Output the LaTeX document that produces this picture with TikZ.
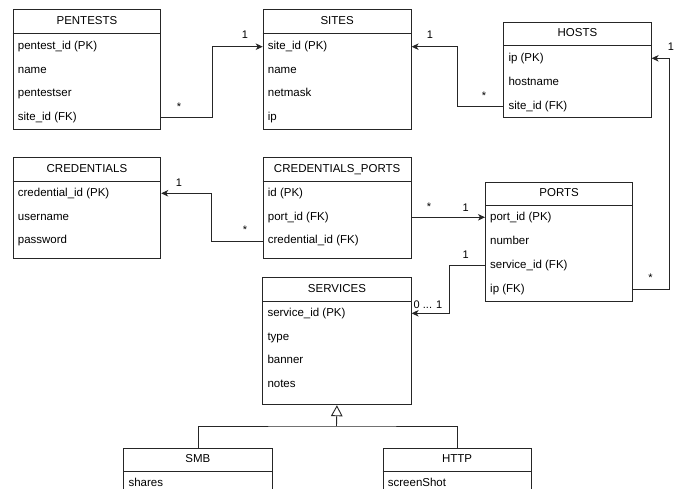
\documentclass[tikz,border=0pt]{standalone}
\usepackage{fontspec}
\setmainfont{Liberation Sans}
\usetikzlibrary{arrows.meta,calc}
\tikzset{
  line/.style={draw=black!85, line width=0.9pt},
  tbl/.style={line, rectangle, inner sep=0pt, fill=white},
  hdr/.style={inner sep=0pt, text height=8.3pt, text depth=2.4pt, font=\fontsize{11.5}{13}\selectfont},
  row/.style={anchor=west, inner sep=0pt, text height=8.3pt, text depth=2.4pt, font=\fontsize{11.5}{13}\selectfont},
  lbl/.style={inner sep=0pt, font=\fontsize{11}{13}\selectfont},
  fk/.style={line, -{Stealth[length=7pt,width=6.5pt,inset=2pt]}},
  inh/.style={line, -{Triangle[open,length=11pt,width=11.5pt]}}
}
\newcommand\erbox[7]{%
  \node[tbl, minimum width=#4pt, minimum height=#5pt, anchor=north west] (#1) at (#2,#3) {};
  \draw[line] ([yshift=-#6pt]#1.north west) -- ([yshift=-#6pt]#1.north east);
  \node[hdr] (#1-t) at ($(#1.north)+(0,#6/2)$) {#7};
}
\begin{document}
\begin{tikzpicture}[x=1pt,y=-1pt]
\useasboundingbox (0,0) rectangle (678,489);
\clip (0,0) rectangle (678,489);
\fill[white] (0,0) rectangle (678,489);

% PENTESTS
\erbox{pent}{12.7}{9.3}{147.6}{120}{24}{PENTESTS}
\node[row] (pent1) at (17.7,46.7) {pentest\_id (PK)};
\node[row] (pent2) at (17.7,70.7) {name};
\node[row] (pent3) at (17.7,94) {pentestser};
\node[row] (pent4) at (17.7,117.7) {site\_id (FK)};

% SITES
\erbox{sites}{262.7}{9.3}{148}{120}{24}{SITES}
\node[row] (site1) at (267.7,46.7) {site\_id (PK)};
\node[row] (site2) at (267.7,70.7) {name};
\node[row] (site3) at (267.7,94) {netmask};
\node[row] (site4) at (267.7,117.7) {ip};

% HOSTS
\erbox{hosts}{503.3}{21.7}{147.4}{95.6}{24}{HOSTS}
\node[row] (host1) at (508.3,58.3) {ip (PK)};
\node[row] (host2) at (508.3,82.3) {hostname};
\node[row] (host3) at (508.3,106.5) {site\_id (FK)};

% CREDENTIALS
\erbox{cred}{12.7}{157.3}{147.6}{101}{24.2}{CREDENTIALS}
\node[row] (cred1) at (17.7,193.3) {credential\_id (PK)};
\node[row] (cred2) at (17.7,217.3) {username};
\node[row] (cred3) at (17.7,241) {password};

% CREDENTIALS_PORTS
\erbox{cp}{262.7}{157.3}{148}{101}{24.2}{CREDENTIALS\_PORTS}
\node[row] (cp1) at (267.7,193.3) {id (PK)};
\node[row] (cp2) at (267.7,217.3) {port\_id (FK)};
\node[row] (cp3) at (267.7,241) {credential\_id (FK)};

% PORTS
\erbox{ports}{485}{181.7}{147.3}{119}{24}{PORTS}
\node[row] (port1) at (490,217.5) {port\_id (PK)};
\node[row] (port2) at (490,241.5) {number};
\node[row] (port3) at (490,265.5) {service\_id (FK)};
\node[row] (port4) at (490,289.3) {ip (FK)};

% SERVICES
\erbox{serv}{262.3}{277.3}{148.4}{127}{23.7}{SERVICES}
\node[row] (serv1) at (267.3,313.3) {service\_id (PK)};
\node[row] (serv2) at (267.3,337.3) {type};
\node[row] (serv3) at (267.3,361) {banner};
\node[row] (serv4) at (267.3,385) {notes};

% SMB and HTTP
\erbox{smb}{123.3}{447.7}{148.4}{70}{23.6}{SMB}
\node[row] (smb1) at (128.3,483.5) {shares};
\erbox{http}{382.7}{447.7}{148}{70}{23.6}{HTTP}
\node[row] (http1) at (387.7,483.5) {screenShot};

% connectors
\draw[fk] (pent.east |- pent4) -- ++(51.4,0) |- (sites.west |- site1);
\node[lbl] (l1a) at (179,107) {*};
\node[lbl] (l1b) at (245,34.5) {1};

\draw[fk] (hosts.west |- host3) -- ++(-46,0) |- (sites.east |- site1);
\node[lbl] (l2a) at (430,34.5) {1};
\node[lbl] (l2b) at (484,96) {*};

\draw[fk] (ports.east |- port4) -- ++(36,0) |- (hosts.east |- host1);
\node[lbl] (l3a) at (650.5,278) {*};
\node[lbl] (l3b) at (671,47) {1};

\draw[fk] (cp.west |- cp3) -- ++(-51,0) |- (cred.east |- cred1);
\node[lbl] (l4a) at (179,183) {1};
\node[lbl] (l4b) at (245,230) {*};

\draw[fk] (cp.east |- cp2) -- (ports.west |- cp2);
\node[lbl] (l5a) at (429,207) {*};
\node[lbl] (l5b) at (465.7,208) {1};

\draw[fk] (ports.west |- port3) -- ++(-36,0) |- (serv.east |- serv1);
\node[lbl] (l6a) at (465.7,255) {1};
\node[lbl] (l6b) at (428,304.5) {0 ... 1};

% inheritance
\coordinate (bar) at (336.5,426);
\draw[line] (smb.north) |- (bar) -| (http.north);
\draw[inh] (bar) -- (serv.south);
\end{tikzpicture}
\end{document}
